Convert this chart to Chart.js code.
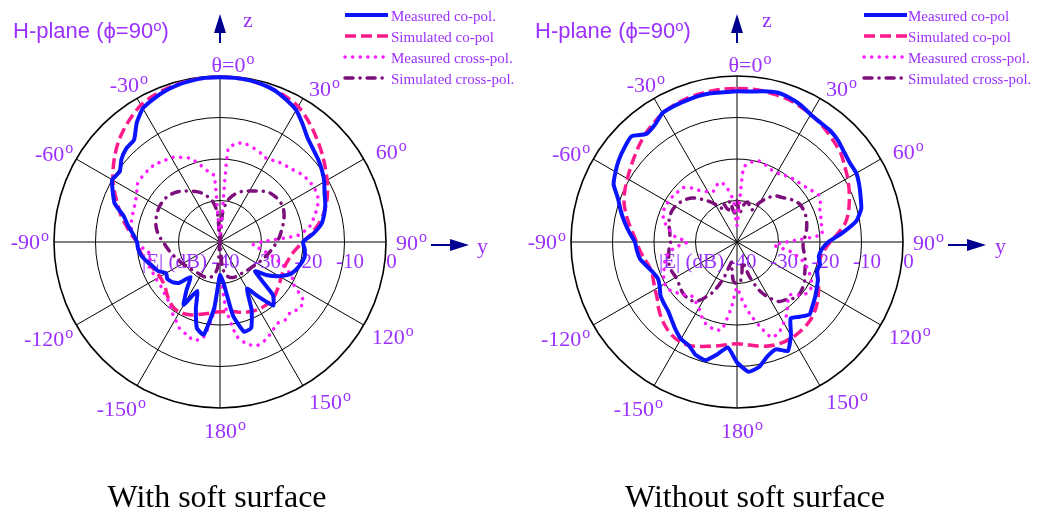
<!DOCTYPE html>
<html>
<head>
<meta charset="utf-8">
<script src="https://cdn.jsdelivr.net/npm/chart.js@4.4.1/dist/chart.umd.min.js"></script>
<style>
  body { margin: 0; background: #fff; width: 1037px; height: 514px; position: relative; overflow: hidden; }
  .box { position: absolute; top: 0; height: 514px; }
  .t { position: absolute; white-space: nowrap; line-height: 1; color: #9b30ff; }
  .title { font: 22px "Liberation Sans", Arial, sans-serif; top: 18px; }
  .leg { font: 15px "Liberation Serif", "Times New Roman", serif; }
  .axis { font: 22px "Liberation Serif", "Times New Roman", serif; }
  .cap { font: 32px "Liberation Serif", "Times New Roman", serif; color: #000; top: 478px; transform: translateX(-50%); }
  sup { font-size: 0.68em; vertical-align: baseline; position: relative; top: -0.5em; }
</style>
</head>
<body>

<div class="box" style="left:0;width:519px"><canvas id="left"></canvas></div>
<div class="box" style="left:519px;width:518px"><canvas id="right"></canvas></div>

<div class="t title" style="left:13px">H-plane (ϕ=90<sup>o</sup>)</div>
<div class="t title" style="left:535px">H-plane (ϕ=90<sup>o</sup>)</div>

<div class="t axis" style="left:243px;top:7px">z</div>
<div class="t axis" style="left:477px;top:233px">y</div>
<div class="t axis" style="left:762px;top:7px">z</div>
<div class="t axis" style="left:995px;top:233px">y</div>

<div class="t leg" style="left:391px;top:8px">Measured co-pol.</div>
<div class="t leg" style="left:391px;top:29px">Simulated co-pol</div>
<div class="t leg" style="left:391px;top:50px">Measured cross-pol.</div>
<div class="t leg" style="left:391px;top:71px">Simulated cross-pol.</div>

<div class="t leg" style="left:908px;top:8px">Measured co-pol</div>
<div class="t leg" style="left:908px;top:29px">Simulated co-pol</div>
<div class="t leg" style="left:908px;top:50px">Measured cross-pol.</div>
<div class="t leg" style="left:908px;top:71px">Simulated cross-pol.</div>

<div class="t cap" style="left:217px">With soft surface</div>
<div class="t cap" style="left:755px">Without soft surface</div>

<script>
// theta in degrees, 0..355 step 5 (clockwise from z)
const ANGLES = Array.from({length: 72}, (_, i) => String(i * 5));
const RING_TICKS = [-40, -30, -20, -10, 0];

// with soft surface
const leftMeasCo = [-0.3,-0.3,-0.4,-0.7,-1.2,-2.2,-3.3,-5.3,-7.2,-8.3,
  -9.1,-10.0,-11.0,-12.2,-13.0,-14.0,-15.2,-17.5,-20.0,-19.5,
  -19.3,-19.8,-20.5,-21.5,-23.5,-26,-29,-22,-20,-24,
  -27,-22,-18,-17.6,-22,-30,-32,-24,-17.3,-18.5,
  -23,-27,-22.5,-26,-29,-26,-25,-24.5,-25,-23.5,
  -22.8,-21.8,-20.8,-20.2,-20,-19,-17.5,-16,-13,-11.5,
  -10,-10.5,-9,-8.1,-7.8,-5,-2.8,-2.0,-1.3,-0.8,
  -0.5,-0.3];
const leftSimCo = [-0.3,-0.3,-0.4,-0.7,-1.1,-1.6,-2.3,-3.6,-5.0,-6.4,
  -7.7,-9.0,-10.2,-11.4,-12.7,-14.2,-16,-18,-20,-21.5,
  -22.5,-23,-23.3,-23.2,-23,-22.5,-22,-21.5,-21.2,-21.2,
  -21.3,-21.6,-22,-22.5,-23,-23.2,-23.2,-23,-22.5,-22,
  -21.3,-20.8,-20.5,-20.6,-21.2,-22,-22.8,-23.2,-23.3,-23,
  -22.5,-21.8,-21,-20.5,-20,-18.5,-17,-15.3,-13.8,-12,
  -10.2,-8.6,-7,-5.5,-4.2,-3.0,-1.9,-1.3,-0.9,-0.6,
  -0.4,-0.3];
const leftMeasX = [-38,-17.5,-15.8,-15.6,-16,-16.5,-17,-16.2,-15.8,-15.3,
  -14.5,-14,-13.8,-14,-15,-16.5,-18,-21,-30,-32,
  -30,-27,-24,-21,-19.5,-15.5,-15,-16,-15.5,-16,
  -15,-14,-13.5,-14.5,-17,-24,-32,-23,-16.5,-15.5,
  -16.3,-17,-18.5,-19.6,-21,-21.5,-22,-22.3,-22.2,-22.2,
  -22,-22.5,-23,-21.5,-20,-19,-18.2,-18,-17.8,-17.5,
  -16.8,-15.7,-15.5,-15.5,-15.6,-16.2,-16.5,-17.5,-18.5,-20.5,
  -22.6,-24];
const leftSimX = [-40,-33,-30,-28.5,-27.3,-26.5,-25.8,-25,-24,-23.2,
  -22.8,-22.6,-22.6,-23,-23.6,-24.3,-25,-25.6,-26.3,-27,
  -27.6,-28.2,-28.7,-29.2,-29.6,-30,-30.3,-30.5,-30.7,-30.8,
  -30.8,-30.8,-30.9,-31.2,-32,-34,-40,-34,-32,-31.2,
  -30.9,-30.8,-30.8,-30.8,-30.7,-30.5,-30.3,-30,-29.6,-29.2,
  -28.7,-28.2,-27.6,-27,-26.3,-25.4,-24.6,-24,-23.6,-23.3,
  -23.1,-23.1,-23.2,-23.6,-24.2,-25,-25.8,-26.6,-27.5,-28.7,
  -30.2,-33];

// without soft surface
const rightMeasCo = [-3.7,-3.6,-3.1,-2.7,-3.0,-3.6,-4.5,-4.9,-5.0,-5.5,
  -6.3,-6.8,-6.8,-7.5,-8.3,-9.0,-10.8,-14.5,-18,-19.5,
  -20,-19.3,-19.5,-18.5,-17.8,-17,-16.2,-15.3,-16.5,-17.5,
  -14,-11,-12.5,-11.5,-9.4,-8.6,-11,-14.5,-12.5,-10.5,
  -11,-12.5,-13,-14.2,-15.5,-16.5,-17,-17.5,-18.5,-19,
  -18.5,-17.5,-16.3,-15.8,-15.4,-14,-12.5,-11,-9.5,-7.2,
  -6.2,-5.3,-4.6,-4.0,-6,-5.5,-4.1,-3.9,-3.8,-3.6,
  -3.6,-3.8];
const rightSimCo = [-3.0,-3.0,-3.1,-3.3,-3.5,-4.0,-4.5,-5.1,-5.8,-6.5,
  -7.2,-8.3,-9.2,-10.2,-11.2,-12.2,-13.5,-15.5,-17.5,-18.8,
  -19.5,-19.6,-19.3,-18.5,-17.3,-16.2,-15.2,-14.4,-13.9,-13.6,
  -13.4,-13.4,-13.6,-14,-14.6,-15.2,-15.5,-15.2,-14.6,-14,
  -13.2,-12.5,-12.3,-12.6,-13.3,-14.2,-15.3,-16.5,-17.2,-17.8,
  -18.2,-18,-17.3,-16.5,-15.8,-14.8,-13.5,-12.2,-11,-10.2,
  -9.5,-8.7,-7.8,-6.8,-5.8,-5.0,-4.2,-3.7,-3.4,-3.2,
  -3.1,-3.0];
const rightMeasX = [-36,-22,-20.5,-19.8,-20.2,-20.7,-20.8,-20.3,-19.8,-19.4,
  -19,-18.2,-17.3,-17.8,-18.8,-19,-19.3,-19.5,-28,-31,
  -27,-24,-22,-20.5,-19.2,-18.9,-20,-22,-21,-19,
  -17.5,-16,-15.5,-19,-22.5,-26,-29,-24,-18.5,-18.3,
  -18.7,-20,-21.6,-22.5,-23,-22,-21,-20,-19.9,-20.5,
  -21.3,-22,-23,-25,-28,-25,-23.5,-22,-21,-20.7,
  -20.8,-21,-21.3,-21.5,-23,-25,-26,-26.5,-25.5,-25,
  -27,-30];
const rightSimX = [-30,-33,-31,-30,-31,-31.5,-29,-27,-25.5,-24.8,
  -23.8,-22.8,-22.3,-22.2,-22.3,-22.6,-23,-23.5,-24,-24,
  -23.5,-23,-22.5,-22,-21.2,-20.7,-20.4,-20.8,-21.8,-22.5,
  -24.5,-27,-31,-35,-33,-30.5,-30,-30.5,-33,-35,
  -31,-27,-24.5,-22.5,-22,-22,-22.3,-22.8,-23,-22.8,
  -22.7,-23,-23.3,-23.6,-24,-23.8,-23.5,-23,-22.7,-22.6,
  -22.8,-23.3,-24,-25,-26.5,-28,-29.5,-31,-30,-32,
  -30,-33];

const PURPLE = '#9b30ff';
const NAVY = '#000090';
const SERIF = '"Liberation Serif", "Times New Roman", serif';

const ANGLE_MARKS = [
  {deg: 0,   text: 'θ=0',  align: 'center', dx: 13, dy: -4},
  {deg: 30,  text: '30',   align: 'left',   dx: 6,  dy: -2},
  {deg: 60,  text: '60',   align: 'left',   dx: 12, dy: 0},
  {deg: 90,  text: '90',   align: 'left',   dx: 10, dy: 8},
  {deg: 120, text: '120',  align: 'left',   dx: 8,  dy: 19},
  {deg: 150, text: '150',  align: 'left',   dx: 6,  dy: 23},
  {deg: 180, text: '180',  align: 'center', dx: 5,  dy: 30},
  {deg: 210, text: '-150', align: 'right',  dx: 9,  dy: 30},
  {deg: 240, text: '-120', align: 'right',  dx: -3, dy: 21},
  {deg: 270, text: '-90',  align: 'right',  dx: -5, dy: 7},
  {deg: 300, text: '-60',  align: 'right',  dx: -3, dy: 2},
  {deg: 330, text: '-30',  align: 'right',  dx: 11, dy: -6}
];

function drawSup(ctx, x, y, main, align) {
  ctx.font = '22px ' + SERIF;
  const w1 = ctx.measureText(main).width;
  ctx.font = '16px ' + SERIF;
  const w2 = ctx.measureText('o').width;
  const w = w1 + w2 + 1;
  const x0 = align === 'left' ? x : align === 'right' ? x - w : x - w / 2;
  ctx.textAlign = 'left';
  ctx.textBaseline = 'alphabetic';
  ctx.font = '22px ' + SERIF;
  ctx.fillText(main, x0, y);
  ctx.font = '16px ' + SERIF;
  ctx.fillText('o', x0 + w1 + 1, y - 8);
}

const polarDecor = {
  id: 'polarDecor',
  beforeDatasetsDraw(chart) {
    const s = chart.scales.r, ctx = chart.ctx;
    ctx.save();
    ctx.fillStyle = PURPLE;
    ctx.font = '21px ' + SERIF;
    ctx.textAlign = 'center';
    ctx.textBaseline = 'alphabetic';
    s.ticks.forEach((t, i) => {
      const x = s.xCenter + s.getDistanceFromCenterForValue(t.value) + 5.5;
      ctx.fillText(String(RING_TICKS[i]), x, s.yCenter + 25.5);
    });
    ctx.textAlign = 'right';
    ctx.fillText('|E| (dB)', s.xCenter - 13, s.yCenter + 25.5);
    ctx.restore();
  },
  afterDraw(chart) {
    const s = chart.scales.r, ctx = chart.ctx;
    const cx = s.xCenter, cy = s.yCenter, R = s.drawingArea;
    ctx.save();
    ctx.fillStyle = PURPLE;
    ANGLE_MARKS.forEach(m => {
      const p = s.getPointPosition(m.deg / 5, R);
      drawSup(ctx, p.x + m.dx, p.y + m.dy, m.text, m.align);
    });

    // axis arrows
    ctx.strokeStyle = NAVY;
    ctx.fillStyle = NAVY;
    ctx.lineWidth = 2;
    ctx.beginPath();
    ctx.moveTo(cx, 43); ctx.lineTo(cx, 30);
    ctx.moveTo(cx + 211, cy + 3); ctx.lineTo(cx + 234, cy + 3);
    ctx.stroke();
    ctx.beginPath();
    ctx.moveTo(cx, 14); ctx.lineTo(cx - 6, 33); ctx.lineTo(cx + 6, 33); ctx.closePath();
    ctx.moveTo(cx + 249, cy + 3); ctx.lineTo(cx + 230, cy - 3); ctx.lineTo(cx + 230, cy + 9); ctx.closePath();
    ctx.fill();

    // legend samples
    chart.data.datasets.forEach((d, i) => {
      const y = 15 + i * 21;
      ctx.strokeStyle = d.borderColor;
      ctx.lineWidth = d.borderWidth;
      ctx.setLineDash(d.borderDash || []);
      ctx.lineCap = d.borderCapStyle || 'butt';
      ctx.beginPath();
      ctx.moveTo(345, y); ctx.lineTo(388, y);
      ctx.stroke();
    });
    ctx.restore();
  }
};

function makeChart(id, measCo, simCo, measX, simX, padLeft, padRight) {
  new Chart(document.getElementById(id), {
    type: 'radar',
    data: {
      labels: ANGLES,
      datasets: [
        {data: measCo, borderColor: '#0a14ff', borderWidth: 4, tension: 0.15},
        {data: simCo, borderColor: '#ff1a8c', borderWidth: 3.5, borderDash: [11, 5], tension: 0.3},
        {data: measX, borderColor: '#ff1aff', borderWidth: 3.5, borderDash: [0.1, 7.5], borderCapStyle: 'round', tension: 0.2},
        {data: simX, borderColor: '#7d0f7d', borderWidth: 3.5, borderDash: [8, 7, 0.1, 7], borderCapStyle: 'round', tension: 0.3}
      ]
    },
    options: {
      responsive: true,
      maintainAspectRatio: false,
      animation: false,
      layout: {padding: {left: padLeft, right: padRight, top: 76, bottom: 106}},
      elements: {point: {radius: 0, hoverRadius: 0}, line: {fill: false}},
      plugins: {legend: {display: false}, tooltip: {enabled: false}},
      scales: {
        r: {
          min: -40,
          max: 0,
          startAngle: 0,
          ticks: {display: false, stepSize: 10},
          pointLabels: {display: false},
          grid: {circular: true, color: '#000', lineWidth: c => c.index === 4 ? 1.6 : 1},
          angleLines: {color: '#000', lineWidth: c => c.index % 6 === 0 ? 1 : 0}
        }
      }
    },
    plugins: [polarDecor]
  });
}

makeChart('left', leftMeasCo, leftSimCo, leftMeasX, leftSimX, 54, 133);
makeChart('right', rightMeasCo, rightSimCo, rightMeasX, rightSimX, 52, 134);
</script>
</body>
</html>
